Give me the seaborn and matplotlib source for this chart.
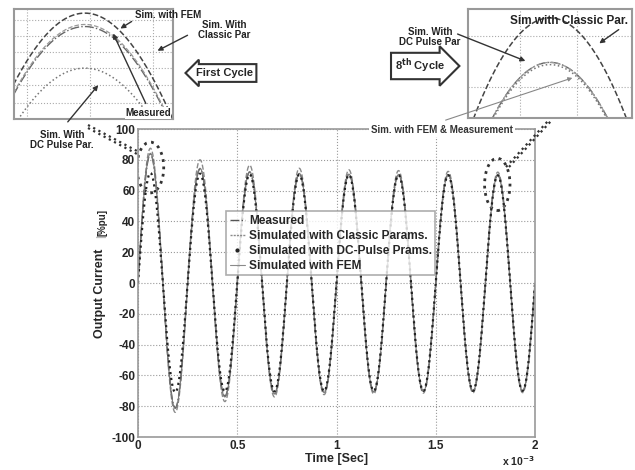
#Import Library
import numpy as np
import pandas as pd
import matplotlib
matplotlib.use('Agg')
import matplotlib.pyplot as plt
import seaborn as sns
from matplotlib.patches import Ellipse
from matplotlib.lines import Line2D

#Data: amplitude of each half cycle (peak, trough, peak, ...) in %pu
#8 cycles in 2 ms -> 4 kHz
freq = 4000.0
measured = [83.6, -81.0, 74.0, -73.5, 72.0, -71.8, 71.0, -71.0, 70.6, -70.6, 70.4, -70.4, 70.2, -70.2, 70.0, -70.0]
classic = [87.5, -84.0, 80.0, -77.0, 76.5, -74.0, 74.5, -72.5, 73.5, -72.0, 73.0, -71.5, 72.5, -71.3, 72.0, -71.2]
dc_pulse = [71.5, -71.0, 71.0, -70.5, 70.5, -70.3, 70.3, -70.2, 70.2, -70.1, 70.1, -70.0, 70.0, -70.0, 69.9, -70.0]
fem = [84.2, -81.5, 74.5, -74.0, 72.3, -72.0, 71.2, -71.1, 70.7, -70.6, 70.4, -70.4, 70.2, -70.2, 70.0, -70.0]

names = ['Measured', 'Simulated with Classic Params.', 'Simulated with DC-Pulse Prams.', 'Simulated with FEM']
series = [measured, classic, dc_pulse, fem]

#build waveform: each half cycle is a sine lobe with the amplitude read above
t = np.linspace(0, 2e-3, 8001)
half = np.minimum((t * 2 * freq).astype(int), 15)
rows = []
for name, amps in zip(names, series):
    a = np.abs(np.array(amps))[half]
    rows.append(pd.DataFrame({'time': t * 1e3, 'current': a * np.sin(2 * np.pi * freq * t), 'series': name}))
data = pd.concat(rows, ignore_index=True)

#styles (main plot / insets)
styles = {
    'Measured': dict(color='#555555', linestyle='-.', linewidth=1.0),
    'Simulated with Classic Params.': dict(color='#8a8a8a', linestyle='--', linewidth=1.0),
    'Simulated with DC-Pulse Prams.': dict(color='#222222', linestyle=':', linewidth=1.6),
    'Simulated with FEM': dict(color='#7a7a7a', linestyle='-', linewidth=0.8),
}
inset_styles = {
    'Measured': dict(color='#666666', linestyle='-.', linewidth=1.0),
    'Simulated with Classic Params.': dict(color='#444444', linestyle='--', linewidth=1.1),
    'Simulated with DC-Pulse Prams.': dict(color='#777777', linestyle=':', linewidth=1.1),
    'Simulated with FEM': dict(color='#999999', linestyle='--', linewidth=0.9),
}
order = ['Simulated with Classic Params.', 'Measured', 'Simulated with FEM', 'Simulated with DC-Pulse Prams.']

sns.set_style('white')
plt.rcParams['font.family'] = ['Liberation Sans', 'DejaVu Sans']
plt.rcParams['font.weight'] = 'bold'
plt.rcParams['mathtext.default'] = 'bf'

W, H = 635, 470
fig = plt.figure(figsize=(W / 100, H / 100), dpi=100)

def box(x0, y0, x1, y1):
    #pixel box -> figure fraction
    return [x0 / W, 1 - y1 / H, (x1 - x0) / W, (y1 - y0) / H]

def draw_series(ax, st):
    for name in order:
        sub = data[data['series'] == name]
        sns.lineplot(data=sub, x='time', y='current', ax=ax, estimator=None, legend=False, **st[name])
    ax.set_xlabel('')
    ax.set_ylabel('')

#main plot
ax = fig.add_axes(box(138, 129, 535, 437))
draw_series(ax, styles)
ax.set_xlim(0, 2)
ax.set_ylim(-100, 100)
ax.set_xticks([0, 0.5, 1, 1.5, 2])
ax.set_xticklabels(['0', '0.5', '1', '1.5', '2'])
ax.set_yticks(np.arange(-100, 101, 20))
ax.set_yticklabels([str(v) for v in np.arange(-100, 101, 20)])
ax.grid(True, linestyle=':', color='#999999', linewidth=0.8)
ax.tick_params(labelsize=8.5, length=0, pad=2)
for s in ax.spines.values():
    s.set_color('#999999')
    s.set_linewidth(1.2)
ax.set_xlabel('Time [Sec]', fontsize=9, fontweight='bold', labelpad=1)

#legend
handles = [
    Line2D([], [], color='#555555', linestyle='-.', linewidth=1.0),
    Line2D([], [], color='#8a8a8a', linestyle='--', linewidth=1.0, dashes=(1.5, 0.8)),
    Line2D([], [], color='#222222', linestyle='none', marker='.', markersize=4),
    Line2D([], [], color='#8a8a8a', linestyle='-', linewidth=0.8),
]
leg = ax.legend(handles, names, loc='upper left', bbox_to_anchor=(0.222, 0.733), fontsize=8.6,
                frameon=True, fancybox=False, edgecolor='#999999', handlelength=1.3, handletextpad=0.3,
                labelspacing=0.25, borderpad=0.3, borderaxespad=0)
leg.get_frame().set_linewidth(1.2)

#ellipses around first and eighth peak
ax.add_patch(Ellipse((0.062, 75), 0.135, 33, fill=False, linestyle=':', linewidth=2.0, edgecolor='#333333'))
ax.add_patch(Ellipse((1.81, 64), 0.128, 34, fill=False, linestyle=':', linewidth=2.0, edgecolor='#333333'))

#left inset: first cycle
axl = fig.add_axes(box(14, 9, 173, 119))
draw_series(axl, inset_styles)
axl.set_xlim(0.0347, 0.0971)
axl.set_ylim(56.7, 88.7)
axl.set_xticks([0.0398, 0.0645, 0.0892])
axl.set_yticks([61.5, 66.5, 71.5, 76.2, 80.8, 85.5])
axl.grid(True, linestyle=':', color='#aaaaaa', linewidth=0.8)
axl.tick_params(labelbottom=False, labelleft=False, length=0)
for s in axl.spines.values():
    s.set_color('#999999')
    s.set_linewidth(1.5)

#right inset: 8th cycle
axr = fig.add_axes(box(468, 9, 632, 118))
draw_series(axr, inset_styles)
axr.set_xlim(1.7973, 1.8277)
axr.set_ylim(67.5, 72.4)
axr.set_xticks([1.807, 1.8175])
axr.set_yticks([68.9, 71.2])
axr.grid(True, linestyle=':', color='#aaaaaa', linewidth=0.8)
axr.tick_params(labelbottom=False, labelleft=False, length=0)
for s in axr.spines.values():
    s.set_color('#999999')
    s.set_linewidth(1.5)

#overlay in pixel coordinates for the annotations
ov = fig.add_axes([0, 0, 1, 1], zorder=10)
ov.set_xlim(0, W)
ov.set_ylim(H, 0)
ov.axis('off')
ov.patch.set_alpha(0)

arrow = dict(arrowstyle='-|>', color='#333333', lw=1.0, mutation_scale=7)
small = dict(fontsize=7, fontweight='bold', color='#222222', ha='center', va='center', linespacing=1.05)

ov.annotate('', xy=(118, 30), xytext=(134, 20), arrowprops=arrow)
ov.text(168, 15, 'Sim. with FEM', **small)
ov.annotate('', xy=(155, 52), xytext=(190, 34), arrowprops=arrow)
ov.text(224, 30, 'Sim. With\nClassic Par', **small)
ov.annotate('', xy=(112, 31), xytext=(147, 106), arrowprops=arrow)
ov.text(148, 113, 'Measured', bbox=dict(fc='white', ec='none', pad=0.5), **small)
ov.annotate('', xy=(100, 83), xytext=(66, 124), arrowprops=arrow)
ov.text(62, 140, 'Sim. With\nDC Pulse Par.', **small)
ov.text(224, 73, 'First Cycle', fontsize=8, fontweight='bold', ha='center', va='center',
        bbox=dict(boxstyle='larrow,pad=0.35', fc='white', ec='#333333', lw=1.5))

ov.text(420, 66, r'8$^{th}$ Cycle', fontsize=8, fontweight='bold', ha='center', va='center',
        bbox=dict(boxstyle='rarrow,pad=0.35', fc='white', ec='#333333', lw=1.5))
ov.annotate('', xy=(528, 62), xytext=(455, 33), arrowprops=arrow)
ov.text(430, 37, 'Sim. With\nDC Pulse Par', **small)
ov.text(569, 21, 'Sim with Classic Par.', fontsize=8.5, fontweight='bold', color='#222222', ha='center', va='center')
ov.annotate('', xy=(597, 45), xytext=(621, 28), arrowprops=arrow)

ov.annotate('', xy=(575, 77), xytext=(443, 121), arrowprops=dict(arrowstyle='-|>', color='#888888', lw=0.8, mutation_scale=6))
ov.text(442, 130, 'Sim. with FEM & Measurement', fontsize=7, fontweight='bold', color='#333333', ha='center',
        va='center', bbox=dict(fc='white', ec='none', pad=1.5))

#dotted connectors from the ellipses
for d in (0, 3):
    ov.plot([88, 137], [125 + d, 151 + d], linestyle=':', color='#333333', linewidth=1.6)
    ov.plot([506 + d, 548 + d], [167, 121], linestyle=':', color='#333333', linewidth=1.6)

#axis label with the small unit part
ov.text(100, 293, 'Output Current', rotation=90, fontsize=9, fontweight='bold', ha='center', va='center')
ov.text(101, 236, '|', rotation=90, fontsize=8, color='#bbbbbb', ha='center', va='center')
ov.text(103, 222, '[%pu]', rotation=90, fontsize=7, fontweight='bold', ha='center', va='center')
ov.text(535, 468, r'x 10$^{-3}$', fontsize=7.5, fontweight='bold', ha='right', va='bottom')

plt.savefig('out.png', dpi=100)
